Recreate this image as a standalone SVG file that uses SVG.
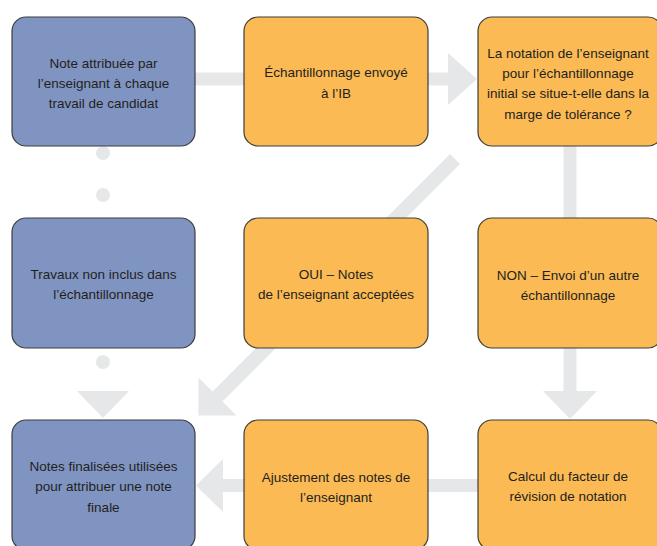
<svg xmlns="http://www.w3.org/2000/svg" width="657" height="546" viewBox="0 0 657 546">
<style>
.bar{stroke:#e6e7e8;stroke-width:13;fill:none;stroke-linecap:butt}
.head{fill:#e6e7e8}
.dot{fill:#e6e7e8}
.box{stroke:#3d3d3d;stroke-width:1.2}
.blue{fill:#8094c1}
.orange{fill:#fbba54}
text{font-family:"Liberation Sans",Arial,sans-serif;font-size:13.5px;fill:#231f20;text-anchor:middle}
</style>
<rect width="657" height="546" fill="#ffffff"/>
<g id="connectors">
  <line class="bar" x1="195" y1="79" x2="244" y2="79"/>
  <line class="bar" x1="428" y1="79" x2="449" y2="79"/>
  <polygon class="head" points="448,53 448,105 477,79"/>
  <line class="bar" x1="570" y1="146" x2="570" y2="392"/>
  <polygon class="head" points="543,391 597,391 570,419"/>
  <line class="bar" x1="478" y1="485.5" x2="222" y2="485.5"/>
  <polygon class="head" points="223,459 223,512 196,485.5"/>
  <line class="bar" x1="455" y1="159" x2="217" y2="397" style="stroke-width:14"/>
  <polygon class="head" points="198.5,377.5 236.5,415.5 198.4,415.6"/>
  <circle class="dot" cx="103" cy="153" r="7"/>
  <circle class="dot" cx="103" cy="195" r="7"/>
  <circle class="dot" cx="103" cy="362" r="7"/>
  <polygon class="head" points="77,391 129,391 103,418"/>
</g>
<g id="n1">
  <rect class="box blue" x="12" y="17" width="183" height="129" rx="14"/>
  <text x="103.5" y="68">Note attribuée par</text>
  <text x="103.5" y="88">l’enseignant à chaque</text>
  <text x="103.5" y="108">travail de candidat</text>
</g>
<g id="n2">
  <rect class="box orange" x="244" y="17" width="184" height="129" rx="14"/>
  <text x="336" y="77">Échantillonnage envoyé</text>
  <text x="336" y="98">à l’IB</text>
</g>
<g id="n3">
  <rect class="box orange" x="478" y="17" width="184" height="129" rx="14"/>
  <text x="568" y="58">La notation de l’enseignant</text>
  <text x="568" y="78">pour l’échantillonnage</text>
  <text x="568" y="98">initial se situe-t-elle dans la</text>
  <text x="568" y="119">marge de tolérance ?</text>
</g>
<g id="n4">
  <rect class="box blue" x="12" y="218" width="183" height="130" rx="14"/>
  <text x="103.5" y="279">Travaux non inclus dans</text>
  <text x="103.5" y="299">l’échantillonnage</text>
</g>
<g id="n5">
  <rect class="box orange" x="244" y="218" width="184" height="130" rx="14"/>
  <text x="336" y="279">OUI – Notes</text>
  <text x="336" y="299">de l’enseignant acceptées</text>
</g>
<g id="n6">
  <rect class="box orange" x="478" y="218" width="184" height="130" rx="14"/>
  <text x="568" y="280">NON – Envoi d’un autre</text>
  <text x="568" y="300">échantillonnage</text>
</g>
<g id="n7">
  <rect class="box blue" x="12" y="420" width="183" height="130" rx="14"/>
  <text x="103.5" y="471">Notes finalisées utilisées</text>
  <text x="103.5" y="491">pour attribuer une note</text>
  <text x="103.5" y="512">finale</text>
</g>
<g id="n8">
  <rect class="box orange" x="244" y="420" width="184" height="130" rx="14"/>
  <text x="336" y="482">Ajustement des notes de</text>
  <text x="336" y="502">l’enseignant</text>
</g>
<g id="n9">
  <rect class="box orange" x="478" y="420" width="184" height="130" rx="14"/>
  <text x="568" y="481">Calcul du facteur de</text>
  <text x="568" y="501">révision de notation</text>
</g>
</svg>
